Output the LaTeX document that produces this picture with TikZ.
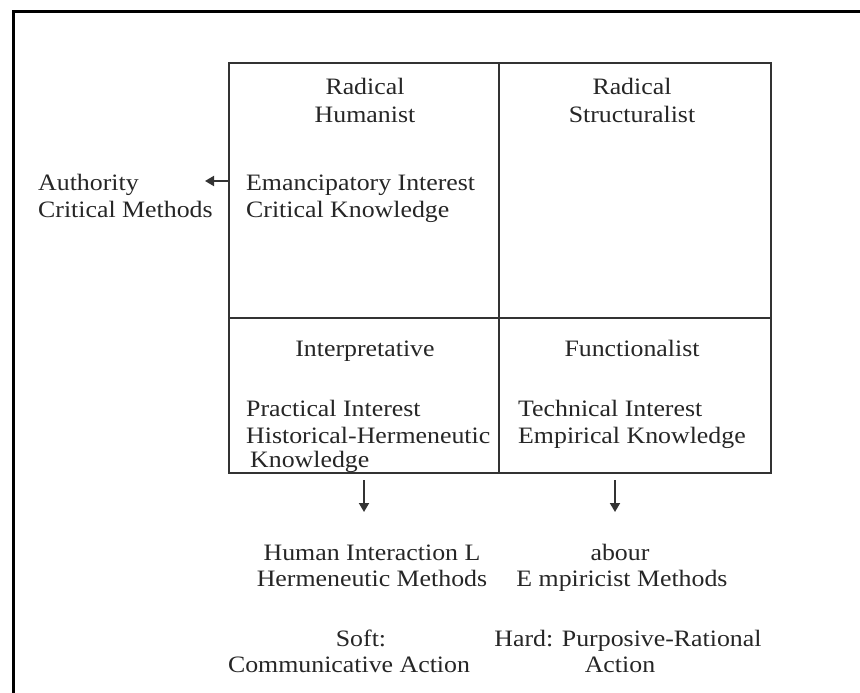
\documentclass[tikz,border=0pt]{standalone}
\usepackage{fontspec}
\setmainfont[FakeStretch=1.1]{Liberation Serif}
\usetikzlibrary{arrows.meta}
\begin{document}
\begin{tikzpicture}[x=1pt,y=-1pt,
  lbl/.style={inner sep=0pt,font=\fontsize{23.5}{27}\selectfont,text=black!85},
  cl/.style={lbl,anchor=base},
  ll/.style={lbl,anchor=base west},
  frame/.style={line width=3pt,black},
  grid/.style={line width=1.6pt,black!80},
  arr/.style={line width=1.8pt,black!80,-{Triangle[length=9pt,width=10pt]}}]
\useasboundingbox[fill=white] (0,0) rectangle (860,693);
% outer frame (top and left edges only visible)
\draw[frame] (13,693) -- (13,12) -- (860,12);
% quadrant grid
\coordinate (tl) at (229,63);
\coordinate (tm) at (499,63);
\coordinate (tr) at (771,63);
\coordinate (ml) at (229,318);
\coordinate (mm) at (499,318);
\coordinate (mr) at (771,318);
\coordinate (bl) at (229,473);
\coordinate (bm) at (499,473);
\coordinate (br) at (771,473);
\draw[grid] (tl) rectangle (br);
\draw[grid] (tm) -- (bm);
\draw[grid] (ml) -- (mr);
% texts
\node[cl] (rh1) at (365,95) {Radical};
\node[cl] (rh2) at (365,122) {Humanist};
\node[cl] (rs1) at (632,95) {Radical};
\node[cl] (rs2) at (632,122) {Structuralist};
\node[ll] (au1) at (38,190) {Authority};
\node[ll] (au2) at (38,217) {Critical Methods};
\node[ll] (em1) at (246,190) {Emancipatory Interest};
\node[ll] (em2) at (246,217) {Critical Knowledge};
\node[cl] (ip) at (365,356) {Interpretative};
\node[cl] (fu) at (632,356) {Functionalist};
\node[ll] (pr1) at (246,416) {Practical Interest};
\node[ll] (pr2) at (246,443) {Historical-Hermeneutic};
\node[ll] (pr3) at (250,467) {Knowledge};
\node[ll] (te1) at (518,416) {Technical Interest};
\node[ll] (te2) at (518,443) {Empirical Knowledge};
\node[cl] (hi1) at (372,560) {Human Interaction L};
\node[cl] (hi2) at (372,586) {Hermeneutic Methods};
\node[cl] (ab1) at (620,560) {abour};
\node[cl] (ab2) at (622,586) {E mpiricist Methods};
\node[cl] (so1) at (361,646) {Soft:};
\node[cl] (so2) at (349,672) {Communicative Action};
\node[cl] (ha1) at (628,646) {Hard: Purposive-Rational};
\node[cl] (ha2) at (620,672) {Action};
% arrows
\coordinate (la0) at (229,181);
\coordinate (la1) at (205,181);
\coordinate (da0) at (364,480);
\coordinate (da1) at (364,512);
\coordinate (db0) at (615,480);
\coordinate (db1) at (615,512);
\draw[arr] (la0) -- (la1);
\draw[arr] (da0) -- (da1);
\draw[arr] (db0) -- (db1);
\end{tikzpicture}
\end{document}
